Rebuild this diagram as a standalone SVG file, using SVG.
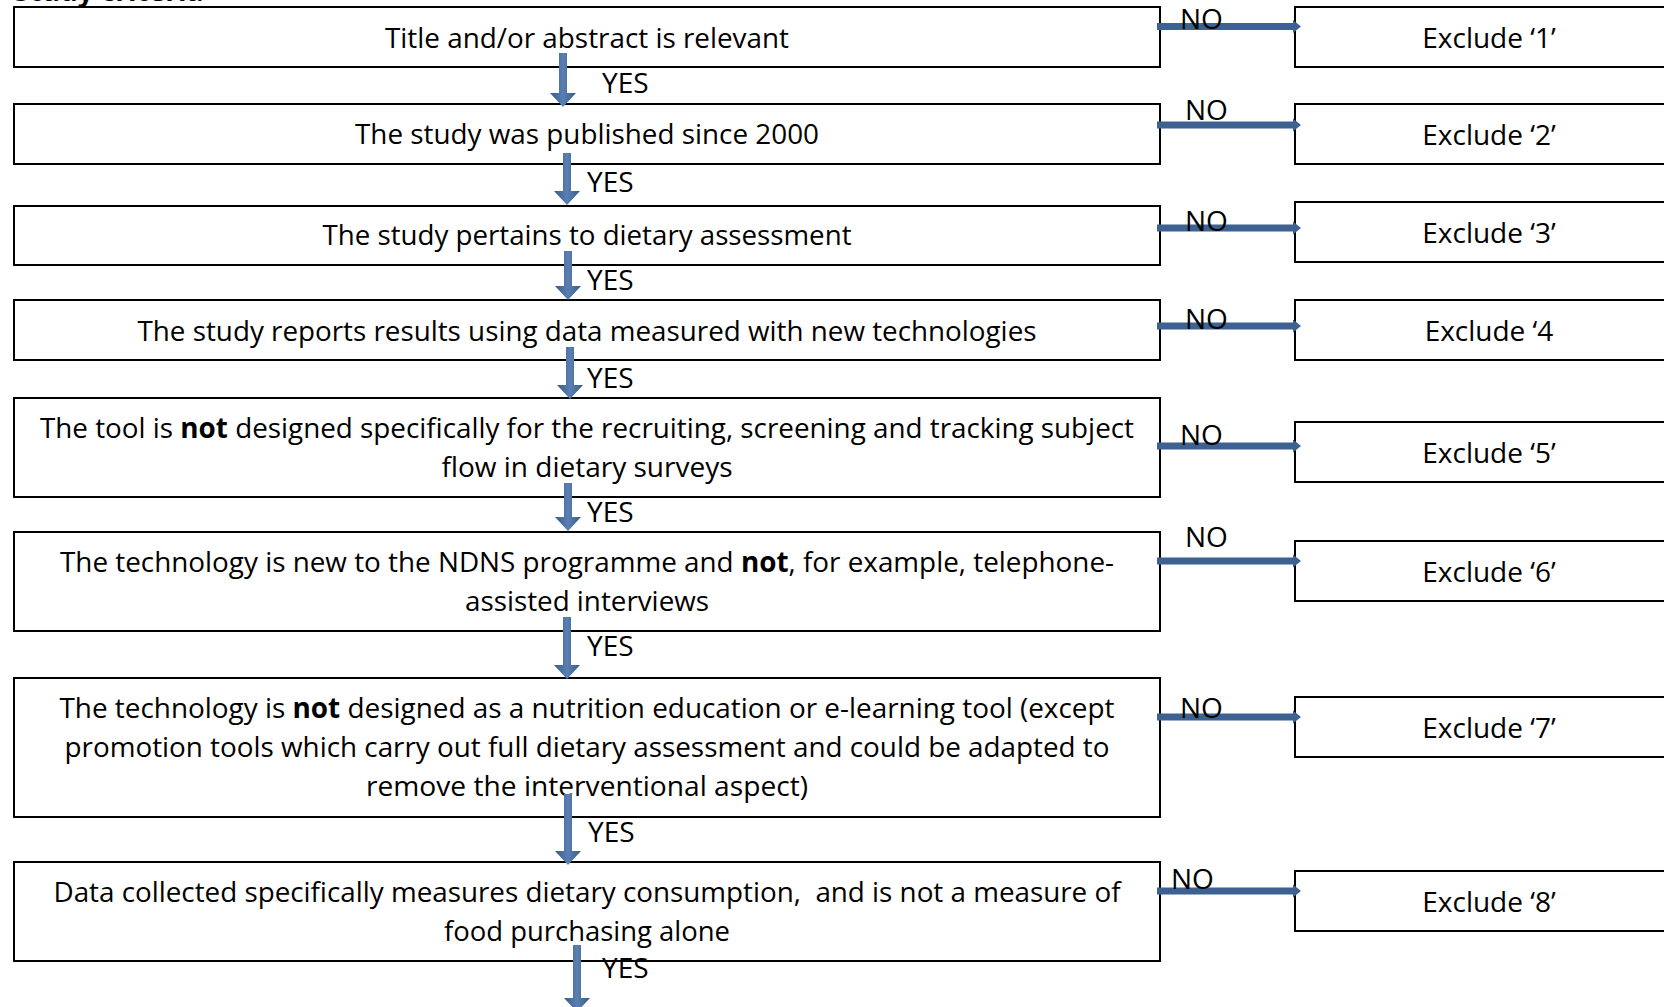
<svg xmlns="http://www.w3.org/2000/svg" width="1664" height="1007" viewBox="0 0 1664 1007">
<style>
.box{fill:#fff;stroke:#000;stroke-width:2}
.t{font-family:"Open Sans","Noto Sans",sans-serif;font-size:28px;fill:#000}
.m{text-anchor:middle}
.b{font-weight:bold}
.h{fill:#3d6191}
.v{fill:url(#vg)}
</style>
<defs>
<linearGradient id="vg" x1="0" y1="0" x2="1" y2="0">
<stop offset="0" stop-color="#385b89"/>
<stop offset="0.5" stop-color="#5a7fb2"/>
<stop offset="1" stop-color="#385b89"/>
</linearGradient>
</defs>
<rect width="1664" height="1007" fill="#fff"/>
<text class="t b" x="14" y="1">Study criteria</text>

<g id="n1"><rect class="box" x="14" y="7" width="1146" height="60"/><text class="t m" x="587" y="48" textLength="404" lengthAdjust="spacingAndGlyphs">Title and/or abstract is relevant</text></g>
<g id="n2"><rect class="box" x="14" y="104" width="1146" height="60"/><text class="t m" x="587" y="144" textLength="464" lengthAdjust="spacingAndGlyphs">The study was published since 2000</text></g>
<g id="n3"><rect class="box" x="14" y="206" width="1146" height="59"/><text class="t m" x="587" y="245" textLength="529" lengthAdjust="spacingAndGlyphs">The study pertains to dietary assessment</text></g>
<g id="n4"><rect class="box" x="14" y="300" width="1146" height="60"/><text class="t m" x="587" y="341" textLength="899" lengthAdjust="spacingAndGlyphs">The study reports results using data measured with new technologies</text></g>
<g id="n5"><rect class="box" x="14" y="398" width="1146" height="99"/><text class="t m" x="587" y="438" textLength="1094" lengthAdjust="spacingAndGlyphs">The tool is <tspan class="b">not</tspan> designed specifically for the recruiting, screening and tracking subject</text><text class="t m" x="587" y="477" textLength="291" lengthAdjust="spacingAndGlyphs">flow in dietary surveys</text></g>
<g id="n6"><rect class="box" x="14" y="532" width="1146" height="99"/><text class="t m" x="587" y="572" textLength="1054" lengthAdjust="spacingAndGlyphs">The technology is new to the NDNS programme and <tspan class="b">not</tspan>, for example, telephone-</text><text class="t m" x="587" y="611" textLength="244" lengthAdjust="spacingAndGlyphs">assisted interviews</text></g>
<g id="n7"><rect class="box" x="14" y="678" width="1146" height="139"/><text class="t m" x="587" y="718" textLength="1055" lengthAdjust="spacingAndGlyphs">The technology is <tspan class="b">not</tspan> designed as a nutrition education or e-learning tool (except</text><text class="t m" x="587" y="757" textLength="1045" lengthAdjust="spacingAndGlyphs">promotion tools which carry out full dietary assessment and could be adapted to</text><text class="t m" x="587" y="796" textLength="442" lengthAdjust="spacingAndGlyphs">remove the interventional aspect)</text></g>
<g id="n8"><rect class="box" x="14" y="862" width="1146" height="99"/><text class="t m" x="587" y="902" textLength="1067" lengthAdjust="spacingAndGlyphs">Data collected specifically measures dietary consumption, &#160;and is not a measure of</text><text class="t m" x="587" y="941" textLength="286" lengthAdjust="spacingAndGlyphs">food purchasing alone</text></g>

<g id="x1"><rect class="box" x="1295" y="7" width="420" height="60"/><text class="t m" x="1489" y="48">Exclude ‘1’</text></g>
<g id="x2"><rect class="box" x="1295" y="104" width="420" height="60"/><text class="t m" x="1489" y="145">Exclude ‘2’</text></g>
<g id="x3"><rect class="box" x="1295" y="202" width="420" height="60"/><text class="t m" x="1489" y="243">Exclude ‘3’</text></g>
<g id="x4"><rect class="box" x="1295" y="300" width="420" height="60"/><text class="t m" x="1489" y="341">Exclude ‘4</text></g>
<g id="x5"><rect class="box" x="1295" y="422" width="420" height="60"/><text class="t m" x="1489" y="463">Exclude ‘5’</text></g>
<g id="x6"><rect class="box" x="1295" y="541" width="420" height="60"/><text class="t m" x="1489" y="582">Exclude ‘6’</text></g>
<g id="x7"><rect class="box" x="1295" y="697" width="420" height="60"/><text class="t m" x="1489" y="738">Exclude ‘7’</text></g>
<g id="x8"><rect class="box" x="1295" y="871" width="420" height="60"/><text class="t m" x="1489" y="912">Exclude ‘8’</text></g>

<g id="connectors">
<path class="v" d="M559 53H567V93H576L563 107L550 93H559Z"/>
<path class="v" d="M563 153H571V191H580L567 205L554 191H563Z"/>
<path class="v" d="M564 251H572V286H581L568 300L555 286H564Z"/>
<path class="v" d="M566 347H574V385H583L570 399L557 385H566Z"/>
<path class="v" d="M564 483H572V517H581L568 531L555 517H564Z"/>
<path class="v" d="M563 617H571V665H580L567 679L554 665H563Z"/>
<path class="v" d="M564 794H572V851H581L568 865L555 851H564Z"/>
<path class="v" d="M573 945H581V998H590L577 1012L564 998H573Z"/>

<path class="h" d="M1157 23H1293V20L1301 26.5L1293 33V30H1157Z"/>
<path class="h" d="M1157 121.5H1293V118.5L1301 125L1293 131.5V128.5H1157Z"/>
<path class="h" d="M1157 224.5H1293V221.5L1301 228L1293 234.5V231.5H1157Z"/>
<path class="h" d="M1157 322.5H1293V319.5L1301 326L1293 332.5V329.5H1157Z"/>
<path class="h" d="M1157 442.5H1293V439.5L1301 446L1293 452.5V449.5H1157Z"/>
<path class="h" d="M1157 557.5H1293V554.5L1301 561L1293 567.5V564.5H1157Z"/>
<path class="h" d="M1157 713.5H1293V710.5L1301 717L1293 723.5V720.5H1157Z"/>
<path class="h" d="M1157 887.5H1293V884.5L1301 891L1293 897.5V894.5H1157Z"/>

<text class="t" x="1180" y="29">NO</text>
<text class="t" x="1185" y="120">NO</text>
<text class="t" x="1185" y="231">NO</text>
<text class="t" x="1185" y="329">NO</text>
<text class="t" x="1180" y="445">NO</text>
<text class="t" x="1185" y="547">NO</text>
<text class="t" x="1180" y="718">NO</text>
<text class="t" x="1171" y="889">NO</text>

<text class="t" x="602" y="93">YES</text>
<text class="t" x="587" y="192">YES</text>
<text class="t" x="587" y="290">YES</text>
<text class="t" x="587" y="388">YES</text>
<text class="t" x="587" y="522">YES</text>
<text class="t" x="587" y="656">YES</text>
<text class="t" x="588" y="842">YES</text>
<text class="t" x="602" y="978">YES</text>
</g>
</svg>
